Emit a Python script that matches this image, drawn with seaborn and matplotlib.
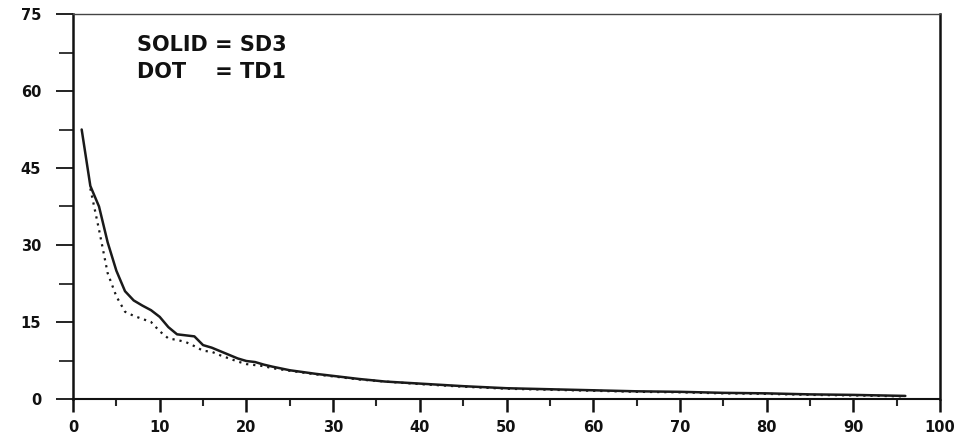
import matplotlib
matplotlib.use("Agg")
import matplotlib.pyplot as plt
import seaborn as sns
import pandas as pd
from matplotlib.ticker import MultipleLocator

# ---- data ----
sd3_x = [1, 2, 3, 4, 5, 6, 7, 8, 9, 10, 11, 12, 13, 14, 15, 16, 17, 18, 19, 20,
         21, 22, 23, 25, 28, 30, 33, 36, 40, 45, 50, 55, 60, 65, 70, 75, 80, 85, 90, 96]
sd3_y = [52.5, 41.5, 37.5, 30.5, 25.0, 21.0, 19.2, 18.2, 17.3, 16.0, 14.0, 12.6, 12.4, 12.2,
         10.5, 10.0, 9.3, 8.6, 7.9, 7.4, 7.2, 6.7, 6.3, 5.6, 4.9, 4.5, 3.9, 3.4, 3.0, 2.5,
         2.1, 1.9, 1.7, 1.5, 1.4, 1.2, 1.1, 0.9, 0.8, 0.6]

td1_x = [2, 3, 4, 5, 6, 7, 8, 9, 10, 11, 12, 13, 14, 15, 16, 17, 18, 19, 20,
         21, 22, 23, 25, 28, 30, 33, 36, 40, 45, 50, 55, 60, 65, 70, 75, 80, 85, 90, 96]
td1_y = [41.0, 33.0, 24.5, 20.0, 17.0, 16.2, 15.6, 15.0, 13.2, 11.8, 11.5, 11.1, 10.3, 9.4,
         9.2, 8.5, 7.9, 7.3, 6.8, 6.6, 6.4, 6.0, 5.5, 4.8, 4.4, 3.8, 3.4, 2.9, 2.4, 2.0,
         1.8, 1.6, 1.4, 1.3, 1.1, 1.0, 0.8, 0.7, 0.5]

legend_lines = ["SOLID = SD3", "DOT    = TD1"]
x_ticks = [0, 10, 20, 30, 40, 50, 60, 70, 80, 90, 100]
y_ticks = [0, 15, 30, 45, 60, 75]

df = pd.concat([
    pd.DataFrame({"x": sd3_x, "y": sd3_y, "series": "SD3"}),
    pd.DataFrame({"x": td1_x, "y": td1_y, "series": "TD1"}),
])

sns.set_style("white")
plt.rcParams["font.family"] = ["DejaVu Sans"]

fig = plt.figure(figsize=(9.72, 4.38), dpi=100)
ax = fig.add_axes([73 / 972, 1 - 399 / 438, (940 - 73) / 972, (399 - 14) / 438])

sns.lineplot(data=df[df.series == "SD3"], x="x", y="y", ax=ax, color="#1a1a1a",
             linewidth=1.8, estimator=None, sort=False)
sns.lineplot(data=df[df.series == "TD1"], x="x", y="y", ax=ax, color="#1a1a1a",
             linewidth=1.6, linestyle=(0, (1, 2.2)), estimator=None, sort=False)

ax.set_xlim(0, 100)
ax.set_ylim(0, 75)
ax.set_xticks(x_ticks)
ax.set_yticks(y_ticks)
ax.set_xticklabels([str(t) for t in x_ticks])
ax.set_yticklabels([str(t) for t in y_ticks])
ax.xaxis.set_minor_locator(MultipleLocator(5))
ax.yaxis.set_minor_locator(MultipleLocator(7.5))
ax.set_xlabel("")
ax.set_ylabel("")

ax.tick_params(axis="x", which="major", direction="out", length=9, width=1.8,
               pad=6, labelsize=10.5, colors="#111111", bottom=True)
ax.tick_params(axis="x", which="minor", direction="out", length=5, width=1.5, bottom=True)
ax.tick_params(axis="y", which="major", direction="out", length=12, width=1.3,
               pad=11, labelsize=10.5, colors="#111111", left=True)
ax.tick_params(axis="y", which="minor", direction="out", length=10, width=1.3, left=True)
for lab in ax.get_xticklabels() + ax.get_yticklabels():
    lab.set_fontweight("bold")

for side in ["left", "right", "bottom", "top"]:
    ax.spines[side].set_visible(True)
    ax.spines[side].set_color("#111111")
ax.spines["left"].set_linewidth(1.8)
ax.spines["right"].set_linewidth(1.8)
ax.spines["bottom"].set_linewidth(1.5)
ax.spines["top"].set_linewidth(1.0)
ax.spines["top"].set_color("#444444")

ax.text(137 / 972, 1 - 45 / 438, legend_lines[0], transform=fig.transFigure,
        fontsize=15, fontweight="bold", ha="left", va="center", color="#111111")
ax.text(137 / 972, 1 - 72 / 438, legend_lines[1], transform=fig.transFigure,
        fontsize=15, fontweight="bold", ha="left", va="center", color="#111111")

fig.savefig("out.png", dpi=100, facecolor="white")
